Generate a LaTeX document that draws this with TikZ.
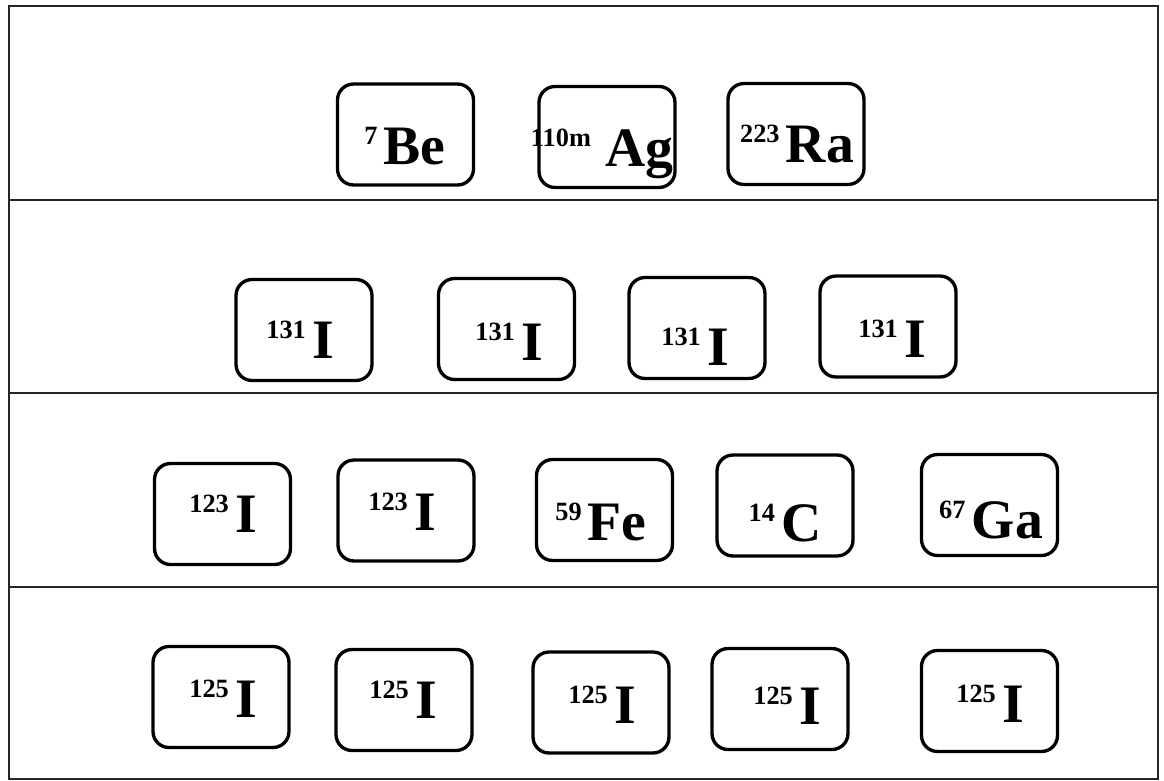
\documentclass[tikz,border=0pt]{standalone}
\usepackage{fontspec}
\setmainfont{Liberation Serif}
% mass number raised over a bold element symbol
\newcommand\nuc[3][3.5pt]{{\fontsize{15}{15}\selectfont\raisebox{11pt}{#2}}\kern#1{\fontsize{31.7}{32}\selectfont #3}}
\begin{document}
\begin{tikzpicture}[x=0.02cm,y=-0.02cm,
  rule/.style={line width=1.3pt, draw=black!85},
  isobox/.style={draw, line width=1.9pt, rounded corners=0.32cm,
    minimum width=2.72cm, minimum height=2.02cm, inner sep=0pt},
  isolabel/.style={anchor=base, inner sep=0pt, font=\bfseries}]
\useasboundingbox (0,0) rectangle (1164,781);

% outer frame and row separators
\coordinate (tl) at (9,6);
\coordinate (br) at (1158,779);
\draw[rule] (tl) rectangle (br);
\foreach \yy in {200,393,587}
  \draw[rule] (9,\yy) -- (1158,\yy);

% row 1
\node[isobox] (be)  at (405.5,134.5) {};
\node[isobox] (ag)  at (607,137) {};
\node[isobox] (ra)  at (796,134) {};
\node[isolabel] (beL) at (405,164) {\nuc{7}{Be}};
\node[isolabel] (agL) at (602,166) {\nuc[8pt]{110m}{Ag}};
\node[isolabel] (raL) at (797,162) {\nuc{223}{Ra}};

% row 2
\node[isobox] (ia1) at (304,330) {};
\node[isobox] (ia2) at (506.5,329) {};
\node[isobox] (ia3) at (697,328) {};
\node[isobox] (ia4) at (888,326.5) {};
\node[isolabel] (ia1L) at (300,358) {\nuc{131}{I}};
\node[isolabel] (ia2L) at (509,360) {\nuc{131}{I}};
\node[isolabel] (ia3L) at (695,365) {\nuc{131}{I}};
\node[isolabel] (ia4L) at (892,357) {\nuc{131}{I}};

% row 3
\node[isobox] (ib1) at (222.5,514) {};
\node[isobox] (ib2) at (406,510.5) {};
\node[isobox] (fe)  at (604.5,510) {};
\node[isobox] (c)   at (785,505.5) {};
\node[isobox] (ga)  at (989.5,505) {};
\node[isolabel] (ib1L) at (223,532) {\nuc{123}{I}};
\node[isolabel] (ib2L) at (402,530) {\nuc{123}{I}};
\node[isolabel] (feL)  at (601,540) {\nuc{59}{Fe}};
\node[isolabel] (cL)   at (785,541) {\nuc{14}{C}};
\node[isolabel] (gaL)  at (991,538) {\nuc{67}{Ga}};

% row 4
\node[isobox] (ic1) at (221,697) {};
\node[isobox] (ic2) at (404,700) {};
\node[isobox] (ic3) at (601,702.5) {};
\node[isobox] (ic4) at (780,699) {};
\node[isobox] (ic5) at (989.5,701) {};
\node[isolabel] (ic1L) at (223,717) {\nuc{125}{I}};
\node[isolabel] (ic2L) at (403,718) {\nuc{125}{I}};
\node[isolabel] (ic3L) at (602,723) {\nuc{125}{I}};
\node[isolabel] (ic4L) at (787,724) {\nuc{125}{I}};
\node[isolabel] (ic5L) at (990,722) {\nuc{125}{I}};
\end{tikzpicture}
\end{document}
